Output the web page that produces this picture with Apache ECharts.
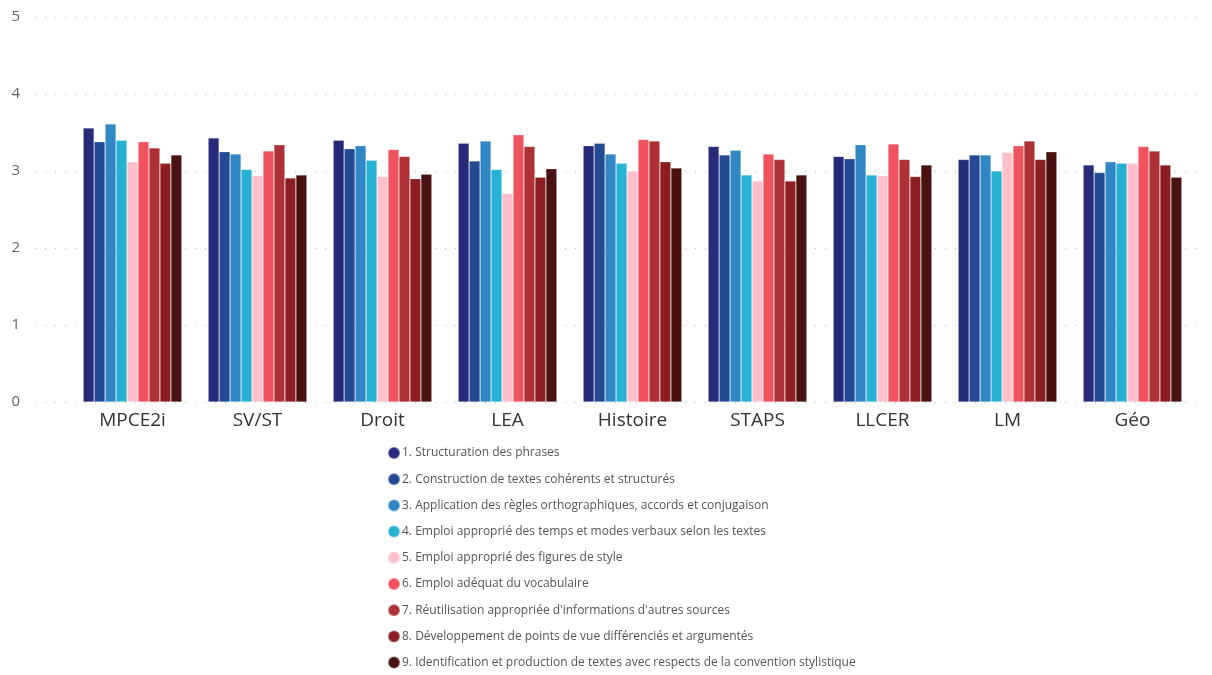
<!DOCTYPE html>
<html>
<head>
<meta charset="utf-8">
<script src="https://cdn.jsdelivr.net/npm/echarts@6/dist/echarts.min.js"></script>
<style>html,body{margin:0;padding:0;background:#fff}#c{width:1212px;height:675px}</style>
</head>
<body>
<div id="c"></div>
<script>
const categories = ['MPCE2i','SV/ST','Droit','LEA','Histoire','STAPS','LLCER','LM','Géo'];
const seriesNames = [
  '1. Structuration des phrases',
  '2. Construction de textes cohérents et structurés',
  '3. Application des règles orthographiques, accords et conjugaison',
  '4. Emploi approprié des temps et modes verbaux selon les textes',
  '5. Emploi approprié des figures de style',
  '6. Emploi adéquat du vocabulaire',
  "7. Réutilisation appropriée d'informations d'autres sources",
  '8. Développement de points de vue différenciés et argumentés',
  '9. Identification et production de textes avec respects de la convention stylistique'
];
const s1 = [3.56, 3.43, 3.40, 3.36, 3.33, 3.32, 3.19, 3.15, 3.08];
const s2 = [3.38, 3.25, 3.29, 3.13, 3.36, 3.21, 3.16, 3.21, 2.98];
const s3 = [3.61, 3.22, 3.33, 3.39, 3.22, 3.27, 3.34, 3.21, 3.12];
const s4 = [3.40, 3.02, 3.14, 3.02, 3.10, 2.95, 2.95, 3.00, 3.10];
const s5 = [3.12, 2.94, 2.93, 2.71, 3.00, 2.87, 2.94, 3.24, 3.10];
const s6 = [3.38, 3.26, 3.28, 3.47, 3.41, 3.22, 3.35, 3.33, 3.32];
const s7 = [3.30, 3.34, 3.19, 3.32, 3.39, 3.15, 3.15, 3.39, 3.26];
const s8 = [3.10, 2.91, 2.90, 2.92, 3.12, 2.87, 2.93, 3.15, 3.08];
const s9 = [3.21, 2.95, 2.96, 3.03, 3.04, 2.95, 3.08, 3.25, 2.92];
const yTicks = [0, 1, 2, 3, 4, 5];
const colors = ['#262A78','#244A93','#3087C3','#27B2D4','#FFC0CB','#EE535E','#AD3135','#8B1E22','#4A1111'];
const allSeries = [s1,s2,s3,s4,s5,s6,s7,s8,s9];

const font = '"Open Sans", "Noto Sans", sans-serif';
const chart = echarts.init(document.getElementById('c'), null, {renderer:'canvas'});
chart.setOption({
  animation: false,
  color: colors,
  textStyle: {fontFamily: font},
  grid: [
    {left: 35, right: 7, top: 17, bottom: 273},
    {left: 70, right: 17, top: 17, bottom: 273}
  ],
  xAxis: [
    {gridIndex: 0, type: 'value', min: 0, max: 1, show: false},
    {gridIndex: 1, type: 'category', data: categories,
     axisLine: {show: false}, axisTick: {show: false},
     axisLabel: {fontSize: 19, color: '#333', margin: 9, fontFamily: font}}
  ],
  yAxis: [
    {gridIndex: 0, type: 'value', min: yTicks[0], max: yTicks[yTicks.length-1], interval: 1,
     axisLine: {show: false}, axisTick: {show: false},
     axisLabel: {fontSize: 15, color: '#666', margin: 15, fontFamily: font},
     splitLine: {show: true, lineStyle: {type: [1, 9], color: '#bbb', width: 1}}},
    {gridIndex: 1, type: 'value', min: yTicks[0], max: yTicks[yTicks.length-1], interval: 1, show: false}
  ],
  legend: {
    orient: 'vertical', left: 387, top: 446, padding: 0, height: 250,
    icon: 'circle', itemWidth: 12, itemHeight: 12, itemGap: 12.2,
    textStyle: {fontSize: 12, lineHeight: 12, color: '#555', fontFamily: font, padding: [0,0,0,-3]},
    data: seriesNames
  },
  series: allSeries.map((d, i) => ({
    name: seriesNames[i], type: 'bar', xAxisIndex: 1, yAxisIndex: 1,
    data: d, barGap: '0%', barCategoryGap: '21%',
    itemStyle: {color: colors[i], borderColor: 'rgba(255,255,255,0.35)', borderWidth: 0.6}
  }))
});
</script>
</body>
</html>
